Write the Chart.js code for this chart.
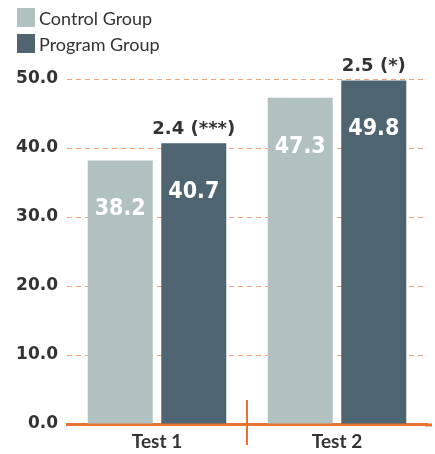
<!DOCTYPE html>
<html>
<head>
<meta charset="utf-8">
<script src="https://cdn.jsdelivr.net/npm/chart.js@4/dist/chart.umd.min.js"></script>
<style>
  html, body { margin: 0; padding: 0; background: #ffffff; }
  #wrap { width: 435px; height: 454px; position: relative; }
</style>
</head>
<body>
<div id="wrap"><canvas id="c" width="435" height="454"></canvas></div>
<script>
// ---- data ----
const categories = ['Test 1', 'Test 2'];
const seriesNames = ['Control Group', 'Program Group'];
const controlValues = [38.2, 47.3];
const programValues = [40.7, 49.8];
const differenceLabels = ['2.4 (***)', '2.5 (*)'];
const yTickValues = [0, 10, 20, 30, 40, 50];

// ---- styles ----
const CONTROL_COLOR = '#b0c1c0';
const PROGRAM_COLOR = '#4e6470';
const ORANGE = '#e8722f';
const GRID_ORANGE = '#f2a274';
const TEXT_DARK = '#333333';
const NUM_FONT = '"DejaVu Sans Condensed", "Liberation Sans Narrow", "DejaVu Sans", sans-serif';
const LABEL_FONT = 'Lato, "Open Sans", sans-serif';

const valueLabelPlugin = {
  id: 'valueLabels',
  afterDatasetsDraw(chart) {
    const ctx = chart.ctx;
    ctx.save();
    chart.data.datasets.forEach((ds, di) => {
      const meta = chart.getDatasetMeta(di);
      meta.data.forEach((bar, i) => {
        ctx.fillStyle = '#ffffff';
        ctx.font = 'bold 23px ' + NUM_FONT;
        ctx.textAlign = 'center';
        ctx.textBaseline = 'middle';
        ctx.fillText(ds.data[i].toFixed(1), bar.x, bar.y + 49);
      });
    });
    const pMeta = chart.getDatasetMeta(1);
    pMeta.data.forEach((bar, i) => {
      ctx.fillStyle = TEXT_DARK;
      ctx.font = 'bold 18px "DejaVu Sans", sans-serif';
      ctx.textAlign = 'center';
      ctx.textBaseline = 'alphabetic';
      ctx.fillText(differenceLabels[i], bar.x, bar.y - 9);
    });
    ctx.restore();
  },
  afterDraw(chart) {
    const ctx = chart.ctx;
    const xs = chart.scales.x;
    const area = chart.chartArea;
    ctx.save();
    ctx.strokeStyle = ORANGE;
    ctx.lineWidth = 3;
    ctx.beginPath();
    ctx.moveTo(area.right - 2, area.bottom + 1);
    ctx.lineTo(area.right + 5, area.bottom + 1);
    ctx.stroke();
    const xd = (xs.getPixelForValue(0) + xs.getPixelForValue(1)) / 2;
    ctx.lineWidth = 2;
    ctx.beginPath();
    ctx.moveTo(xd, area.bottom - 24);
    ctx.lineTo(xd, area.bottom + 21);
    ctx.stroke();
    const items = [
      { label: seriesNames[0], color: CONTROL_COLOR },
      { label: seriesNames[1], color: PROGRAM_COLOR }
    ];
    items.forEach((it, k) => {
      const y0 = 8 + k * 26;
      ctx.fillStyle = it.color;
      ctx.fillRect(17, y0, 18, 19);
      ctx.fillStyle = TEXT_DARK;
      ctx.font = '18px ' + LABEL_FONT;
      ctx.textAlign = 'left';
      ctx.textBaseline = 'middle';
      ctx.fillText(it.label, 39, y0 + 11);
    });
    ctx.restore();
  }
};

new Chart(document.getElementById('c'), {
  type: 'bar',
  data: {
    labels: categories,
    datasets: [
      { label: seriesNames[0], data: controlValues, backgroundColor: CONTROL_COLOR, borderWidth: 0,
        categoryPercentage: 0.817, barPercentage: 0.884 },
      { label: seriesNames[1], data: programValues, backgroundColor: PROGRAM_COLOR, borderWidth: 0,
        categoryPercentage: 0.817, barPercentage: 0.884 }
    ]
  },
  options: {
    responsive: false,
    animation: false,
    devicePixelRatio: 1,
    layout: { padding: { top: 79, right: 8, left: 0, bottom: 0 } },
    plugins: {
      legend: { display: false },
      tooltip: { enabled: false }
    },
    scales: {
      x: {
        afterFit(scale) { scale.height = 30; },
        grid: { display: false, drawTicks: false },
        border: { display: true, color: ORANGE, width: 3 },
        ticks: {
          color: TEXT_DARK,
          font: { family: LABEL_FONT, size: 19, weight: 'bold' },
          padding: 6
        }
      },
      y: {
        min: 0,
        max: 50,
        afterBuildTicks(scale) {
          scale.ticks = yTickValues.map(v => ({ value: v }));
        },
        afterFit(scale) { scale.width = 67; },
        grid: {
          color: GRID_ORANGE,
          lineWidth: 1,
          drawTicks: false
        },
        border: { display: false, dash: [5, 4] },
        ticks: {
          color: TEXT_DARK,
          padding: 9,
          font: { family: '"DejaVu Sans", sans-serif', size: 17, weight: 'bold' },
          callback: v => Number(v).toFixed(1)
        }
      }
    }
  },
  plugins: [valueLabelPlugin]
});
</script>
</body>
</html>
